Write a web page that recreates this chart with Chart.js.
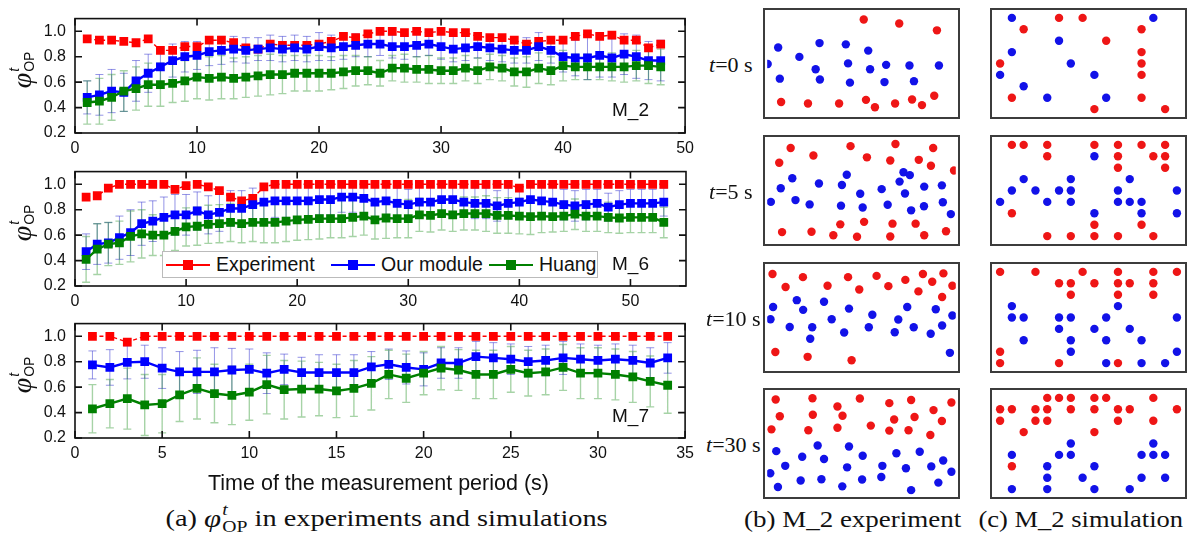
<!DOCTYPE html>
<html>
<head>
<meta charset="utf-8">
<script src="https://cdn.jsdelivr.net/npm/chart.js@4.4.1/dist/chart.umd.min.js"></script>
<style>
  html, body { margin: 0; padding: 0; background: #fff; }
  #fig { position: relative; width: 1192px; height: 536px; overflow: hidden;
         font-family: 'Liberation Sans', Arial, sans-serif; color: #111; }
  #fig canvas { position: absolute; }
  .txt { position: absolute; white-space: nowrap; line-height: 1; }
  .ytitle { position: absolute; left: 22px; white-space: nowrap; line-height: 1;
            transform: translate(-50%, -50%) rotate(-90deg); display: flex; align-items: center; }
  .phi { font-family: 'Liberation Serif', 'Times New Roman', serif; font-style: italic; font-size: 28px; }
  .ss { display: inline-flex; flex-direction: column; font-size: 14px; line-height: 1.05; margin-left: 1px; }
  .ss .sup { font-style: italic; }
  .mlab { font-size: 19px; }
  .serif { font-family: 'Liberation Serif', 'Times New Roman', serif; }
  .rowlab { font-size: 22px; text-align: right; }
  .cap { font-size: 23px; transform-origin: center center; display: flex; align-items: center; }
  .cap .ss { font-size: 16px; }
  #legend { position: absolute; left: 162px; top: 251px; width: 436px; height: 27px;
            border: 1px solid #bbb; background: #fff; box-sizing: border-box; }
  .key { position: absolute; top: 12px; width: 44px; height: 2px; }
  .key::after { content: ''; position: absolute; left: 17px; top: -4px; width: 10px; height: 10px; background: inherit; }
  .ltext { position: absolute; top: 3px; font-size: 19.5px; line-height: 1; }
</style>
</head>
<body>
<div id="fig"></div>
<script>
const seriesNames = ['Experiment', 'Our module', 'Huang'];
const seriesColors = ['#ff0000', '#0000ff', '#008000'];
const modelLabels = ['M_2', 'M_6', 'M_7'];

const m2Exp = [0.94,0.93,0.93,0.92,0.91,0.94,0.85,0.85,0.88,0.88,0.93,0.93,0.91,0.87,0.86,0.90,0.89,
  0.89,0.89,0.90,0.92,0.96,0.95,0.98,1.00,1.00,0.99,1.00,0.99,1.00,0.99,0.99,0.96,0.95,0.95,0.93,0.90,
  0.92,0.93,0.93,0.96,0.98,0.96,0.97,0.93,0.93,0.87,0.90];
const m2Our = [0.48,0.50,0.53,0.52,0.61,0.67,0.72,0.77,0.80,0.81,0.84,0.85,0.86,0.85,0.86,0.87,0.86,
  0.87,0.86,0.88,0.87,0.88,0.89,0.90,0.90,0.88,0.88,0.89,0.90,0.88,0.86,0.87,0.88,0.87,0.86,0.85,0.85,
  0.88,0.85,0.80,0.79,0.79,0.81,0.79,0.82,0.80,0.77,0.77];
const m2Huang = [0.44,0.45,0.48,0.53,0.55,0.58,0.58,0.59,0.61,0.64,0.63,0.64,0.63,0.64,0.65,0.66,0.66,
  0.67,0.67,0.67,0.67,0.68,0.69,0.69,0.67,0.71,0.71,0.70,0.70,0.69,0.69,0.71,0.69,0.72,0.71,0.68,0.68,
  0.71,0.69,0.73,0.72,0.72,0.72,0.72,0.72,0.73,0.73,0.72];
const m2OurErr = [0.13,0.16,0.17,0.15,0.16,0.15,0.14,0.13,0.12,0.11,0.11,0.11,0.10,0.10,0.09,0.10,0.10,
  0.10,0.10,0.11,0.10,0.10,0.09,0.10,0.09,0.09,0.10,0.09,0.09,0.10,0.10,0.10,0.09,0.10,0.10,0.10,0.10,
  0.11,0.10,0.12,0.14,0.17,0.17,0.15,0.16,0.17,0.15,0.16];
const m2HuangErr = [0.17,0.18,0.18,0.16,0.17,0.17,0.17,0.15,0.16,0.17,0.17,0.17,0.16,0.16,0.16,0.16,0.15,
  0.14,0.14,0.14,0.13,0.13,0.12,0.11,0.10,0.10,0.11,0.10,0.11,0.10,0.10,0.10,0.10,0.10,0.10,0.11,0.12,
  0.12,0.11,0.12,0.10,0.10,0.10,0.11,0.12,0.12,0.14,0.14];

const m6Exp = [0.90,0.91,0.97,1.00,1.00,1.00,1.00,1.00,0.96,0.99,1.00,0.98,0.95,0.90,0.87,0.89,0.98,1.00,1.00,1.00,
  1,1,1,1,1,1,1,1,1,1, 1,1,1,1,1,1,1,1,1,0.97, 1,1,1,1,1,1,1,1,1,1, 1,1,1];
const m6Our = [0.47,0.53,0.54,0.58,0.62,0.69,0.71,0.74,0.76,0.76,0.79,0.76,0.78,0.81,0.81,0.84,0.86,0.87,0.87,0.87,
  0.87,0.88,0.88,0.90,0.90,0.89,0.86,0.87,0.85,0.84, 0.86,0.86,0.88,0.88,0.86,0.85,0.85,0.83,0.85,0.86,
  0.88,0.87,0.86,0.84,0.83,0.84,0.85,0.82,0.84,0.85, 0.85,0.85,0.86];
const m6Huang = [0.41,0.49,0.53,0.54,0.59,0.61,0.60,0.60,0.63,0.665,0.67,0.685,0.69,0.70,0.69,0.70,0.70,0.70,0.71,0.72,
  0.725,0.73,0.73,0.73,0.74,0.75,0.72,0.735,0.73,0.73, 0.76,0.755,0.77,0.76,0.77,0.77,0.77,0.755,0.755,0.75,
  0.745,0.75,0.745,0.75,0.765,0.75,0.75,0.74,0.735,0.74, 0.74,0.74,0.70];
const m6OurErr = [0.14,0.16,0.16,0.17,0.18,0.17,0.16,0.16,0.16,0.16,0.15,0.15,0.15,0.14,0.14,0.13,0.13,0.13,0.13,0.13,
  0.13,0.12,0.12,0.12,0.12,0.12,0.13,0.12,0.12,0.12, 0.12,0.12,0.12,0.12,0.12,0.12,0.12,0.12,0.12,0.12,
  0.12,0.12,0.12,0.12,0.12,0.12,0.11,0.11,0.11,0.11, 0.11,0.11,0.11];
const m6HuangErr = [0.18,0.20,0.17,0.17,0.20,0.19,0.16,0.16,0.15,0.15,0.15,0.15,0.15,0.15,0.15,0.15,0.16,0.16,0.16,0.16,
  0.16,0.16,0.15,0.15,0.15,0.15,0.15,0.16,0.15,0.15, 0.13,0.13,0.13,0.13,0.13,0.13,0.14,0.14,0.14,0.14,
  0.14,0.13,0.12,0.12,0.12,0.12,0.12,0.12,0.12,0.12, 0.12,0.12,0.12];

const m7Exp = [1,1,0.955,1,1,1,1,1,1,1,1,1,1,1,1,1,1,1,1,1,1,1,1,1,1,1,1,1,1,1,1,1,1,1];
const m7Our = [0.775,0.755,0.795,0.80,0.75,0.72,0.72,0.72,0.735,0.74,0.71,0.74,0.715,0.715,0.715,0.715,0.76,
  0.78,0.755,0.74,0.79,0.79,0.84,0.83,0.82,0.80,0.81,0.83,0.82,0.81,0.82,0.81,0.79,0.83];
const m7Huang = [0.43,0.47,0.51,0.46,0.47,0.54,0.59,0.55,0.535,0.56,0.62,0.58,0.585,0.585,0.57,0.59,0.63,
  0.70,0.67,0.71,0.75,0.735,0.70,0.70,0.74,0.71,0.72,0.755,0.71,0.71,0.70,0.68,0.645,0.615];
const m7OurErr = [0.11,0.14,0.13,0.13,0.16,0.16,0.17,0.19,0.17,0.16,0.16,0.12,0.12,0.14,0.14,0.14,0.12,
  0.12,0.13,0.13,0.12,0.12,0.12,0.12,0.12,0.12,0.12,0.13,0.12,0.12,0.12,0.12,0.12,0.12];
const m7HuangErr = [0.19,0.19,0.24,0.24,0.23,0.21,0.24,0.23,0.23,0.22,0.23,0.23,0.22,0.21,0.21,0.22,0.21,
  0.19,0.19,0.17,0.17,0.16,0.19,0.19,0.18,0.18,0.18,0.18,0.20,0.20,0.20,0.20,0.20,0.22];

// --- Data: pedestrian snapshots, [column, row] in a 16 x 9 cell frame ---
const rowTimes = [0, 5, 10, 30];
const exp0Red = [[7.69,0.14],[10.7,0.49],[13.9,1.09],[0.68,7.38],[2.96,7.51],[5.6,7.51],[7.88,7.19],[8.64,7.84],
  [10.35,7.51],[11.79,7.16],[12.63,7.65],[13.67,6.83]];
const exp0Blue = [[0.43,2.6],[3.94,2.21],[6.17,2.32],[8.07,2.87],[2.23,3.42],[-0.46,4.04],[6.36,3.99],[3.61,4.51],
  [8.23,4.51],[9.59,4.12],[11.57,4.18],[14.07,4.18],[0.57,5.33],[3.97,5.41],[6.52,5.68],[9.45,5.63],[11.95,5.55]];
const exp5Red = [[1.49,0.27],[0.52,1.56],[3.42,0.93],[6.57,0.11],[7.96,1.09],[10.38,-0.08],[9.94,1.37],[12.36,1.31],
  [13.58,0.27],[13.39,1.83],[15.35,2.24],[5.7,6.97],[7.72,6.75],[10.13,6.91],[12.09,6.91],[0.76,7.65],[3.26,7.62],
  [5.11,7.93],[7.12,8.06],[9.94,8.03],[12.82,7.93],[14.67,7.57]];
const exp5Blue = [[1.63,2.92],[6.25,2.62],[11.06,2.4],[11.6,2.65],[10.73,3.22],[0.65,3.8],[3.89,3.39],[5.84,3.52],
  [9.21,3.88],[12.82,3.66],[14.32,3.55],[7.39,4.29],[11.19,4.26],[-0.19,5.0],[1.9,4.84],[3.1,5.22],[5.76,5.33],
  [7.6,5.49],[9.72,5.25],[11.71,5.74],[12.8,5.38],[14.4,5.03],[15.08,6.07]];
const exp10Red = [[-0.05,0.19],[2.53,0.46],[1.06,1.33],[4.62,1.22],[6.36,0.46],[7.31,1.55],[8.78,0.35],[9.78,1.25],
  [11.22,0.7],[12.71,0.19],[13.5,0.87],[12.33,1.71],[14.45,0.13],[14.34,2.2],[15.21,1.22],[0.19,7.02],[2.93,7.45],[6.66,7.75]];
const exp10Blue = [[0,3.08],[2.01,2.48],[2.55,3.33],[4.32,2.62],[6.44,3.22],[8.42,3.76],[11.38,3.08],[13.8,3.27],
  [-0.22,4.15],[4.97,4.15],[10.62,4.17],[1.41,4.83],[3.32,4.86],[8.12,4.86],[11.93,4.86],[14.34,4.7],[6.03,5.32],
  [10.32,5.3],[13.37,5.43],[3.15,5.87],[15.21,3.82],[15.0,7.1]];
const exp30Red = [[0.22,0.14],[3.34,0.03],[7.36,0.05],[9.86,0.46],[11.71,0.19],[5.46,0.76],[13.61,1.07],[0.57,1.61],
  [3.37,1.48],[5.89,1.56],[10.27,1.89],[12.0,1.67],[14.32,2.02],[-0.14,2.76],[2.99,2.84],[5.46,2.62],[8.29,2.43],
  [9.86,2.87],[11.49,2.84],[13.34,3.25],[15.13,0.41]];
const exp30Blue = [[0.27,4.67],[3.78,4.18],[6.44,4.26],[2.47,5.16],[4.32,5.36],[7.6,5.08],[10.46,4.86],[12.44,4.73],
  [14.43,5.49],[1.03,5.96],[6.28,6.09],[9.27,5.96],[11.27,6.17],[13.42,6.01],[-0.24,6.61],[2.34,7.24],[4.1,7.13],
  [7.55,7.16],[9.18,6.94],[0.41,7.81],[5.87,7.76],[11.71,8.09],[14.02,7.43],[15.13,6.48]];

const sim0Red = [[5,0],[7,0],[2,1],[12,1],[9,2],[12,3],[0,4],[12,4],[12,5],[1,7],[12,7],[8,8],[14,8]];
const sim0Blue = [[1,0],[13,0],[5,2],[1,3],[6,4],[0,5],[8,5],[2,6],[4,7],[9,7]];
const sim5Red = [[1,0],[2,0],[4,0],[8,0],[10,0],[12,0],[14,0],[4,1],[10,1],[13,1],[14,1],[10,2],[14,2],[1,6],
  [8,7],[12,7],[4,8],[6,8],[8,8],[10,8],[13,8]];
const sim5Blue = [[8,1],[2,3],[6,3],[11,3],[1,4],[3,4],[5,4],[6,4],[10,4],[15,4],[0,5],[4,5],[6,5],[10,5],[11,5],
  [12,5],[8,6],[12,6],[15,6]];
const sim10Red = [[0,0],[3,0],[7,0],[10,0],[13,0],[15,0],[5,1],[6,1],[8,1],[10,1],[11,1],[13,1],[6,2],[10,2],
  [13,2],[0,7],[0,8],[5,8],[10,8]];
const sim10Blue = [[1,3],[10,3],[1,4],[2,4],[5,4],[6,4],[9,4],[15,4],[5,5],[8,5],[11,5],[2,6],[6,6],[9,6],[12,6],
  [6,7],[15,7],[9,8],[12,8],[14,8]];
const sim30Red = [[4,0],[5,0],[6,0],[8,0],[9,0],[13,0],[0,1],[1,1],[3,1],[4,1],[6,1],[8,1],[10,1],[11,1],[15,1],
  [0,2],[3,2],[4,2],[10,2],[13,2],[2,3],[8,3],[1,6]];
const sim30Blue = [[6,4],[13,4],[1,5],[5,5],[6,5],[12,5],[13,5],[14,5],[4,6],[8,6],[4,7],[7,7],[12,7],[14,7],
  [1,8],[4,8],[8,8],[11,8]];

const DOT_RED = 'rgb(238,22,22)';
const DOT_BLUE = 'rgb(18,18,232)';

Chart.defaults.font.family = "'Liberation Sans', Arial, sans-serif";
Chart.defaults.font.size = 16;
Chart.defaults.color = '#111';

const fig = document.getElementById('fig');

function addCanvas(left, top, w, h) {
    const c = document.createElement('canvas');
    c.width = w; c.height = h;
    c.style.left = left + 'px'; c.style.top = top + 'px';
    c.style.width = w + 'px'; c.style.height = h + 'px';
    fig.appendChild(c);
    return c;
}

function addText(html, cls, left, top) {
    const d = document.createElement('div');
    d.className = cls;
    d.innerHTML = html;
    d.style.left = left + 'px';
    d.style.top = top + 'px';
    fig.appendChild(d);
    return d;
}

const toXY = vals => vals.map((v, i) => ({ x: i + 1, y: v }));

// --- Plugins: inward ticks on all four sides, and error bars ---
const frameTicks = {
    id: 'frameTicks',
    afterDraw(chart) {
        const { ctx, chartArea: a, scales: { x, y } } = chart;
        ctx.save();
        ctx.strokeStyle = '#111';
        ctx.lineWidth = 1.6;
        ctx.strokeRect(a.left, a.top, a.right - a.left, a.bottom - a.top);
        ctx.beginPath();
        x.ticks.forEach(t => {
            const px = x.getPixelForValue(t.value);
            ctx.moveTo(px, a.bottom); ctx.lineTo(px, a.bottom - 7);
            ctx.moveTo(px, a.top); ctx.lineTo(px, a.top + 7);
        });
        y.ticks.forEach(t => {
            const py = y.getPixelForValue(t.value);
            ctx.moveTo(a.left, py); ctx.lineTo(a.left + 7, py);
            ctx.moveTo(a.right, py); ctx.lineTo(a.right - 7, py);
        });
        ctx.stroke();
        ctx.restore();
    }
};

const errorBars = {
    id: 'errorBars',
    beforeDatasetsDraw(chart) {
        const { ctx, chartArea: a, scales: { y } } = chart;
        ctx.save();
        ctx.beginPath();
        ctx.rect(a.left, a.top, a.right - a.left, a.bottom - a.top);
        ctx.clip();
        chart.data.datasets.forEach((ds, i) => {
            if (!ds.errors) return;
            const meta = chart.getDatasetMeta(i);
            ctx.strokeStyle = ds.errorColor;
            ctx.lineWidth = ds.errorWidth;
            ctx.beginPath();
            meta.data.forEach((pt, j) => {
                const v = ds.data[j].y, e = ds.errors[j];
                const y1 = y.getPixelForValue(v + e), y2 = y.getPixelForValue(v - e);
                ctx.moveTo(pt.x, y1); ctx.lineTo(pt.x, y2);
                ctx.moveTo(pt.x - 4, y1); ctx.lineTo(pt.x + 4, y1);
                ctx.moveTo(pt.x - 4, y2); ctx.lineTo(pt.x + 4, y2);
            });
            ctx.stroke();
        });
        ctx.restore();
    }
};

// --- (a) three stacked line charts ---
const CH_H = 165, PLOT_TOP = 8, PLOT_H = 125;

function makeLineChart(top, exp, our, huang, ourErr, huangErr, xMax, xStep) {
    const canvas = addCanvas(0, top, 700, CH_H);
    return new Chart(canvas.getContext('2d'), {
        type: 'line',
        data: {
            datasets: [
                {
                    label: seriesNames[0], data: toXY(exp), borderColor: seriesColors[0], backgroundColor: seriesColors[0],
                    borderWidth: 1.4, borderDash: [4, 3], pointStyle: 'rect', pointRadius: 6.2, pointBorderWidth: 0, order: 2
                },
                {
                    label: seriesNames[1], data: toXY(our), borderColor: seriesColors[1], backgroundColor: seriesColors[1],
                    borderWidth: 2.4, pointStyle: 'rect', pointRadius: 6.2, pointBorderWidth: 0, order: 1,
                    errors: ourErr, errorColor: 'rgba(60,60,210,0.55)', errorWidth: 1
                },
                {
                    label: seriesNames[2], data: toXY(huang), borderColor: seriesColors[2], backgroundColor: seriesColors[2],
                    borderWidth: 2.4, pointStyle: 'rect', pointRadius: 6.2, pointBorderWidth: 0, order: 0,
                    errors: huangErr, errorColor: 'rgba(0,128,0,0.35)', errorWidth: 1.4
                }
            ]
        },
        options: {
            responsive: false,
            animation: false,
            layout: { padding: { top: PLOT_TOP, right: 14, left: 0, bottom: 0 } },
            plugins: { legend: { display: false }, tooltip: { enabled: false } },
            scales: {
                x: {
                    type: 'linear', min: 0, max: xMax,
                    ticks: { stepSize: xStep, includeBounds: false, padding: 6, maxRotation: 0, autoSkip: false },
                    grid: { display: false, drawTicks: false },
                    border: { display: false },
                    afterFit: s => { s.height = CH_H - PLOT_TOP - PLOT_H; }
                },
                y: {
                    min: 0.2, max: 1.1,
                    ticks: { stepSize: 0.2, includeBounds: false, padding: 9, callback: v => v.toFixed(1) },
                    grid: { display: false, drawTicks: false },
                    border: { display: false },
                    afterFit: s => { s.width = 75; }
                }
            }
        },
        plugins: [errorBars, frameTicks]
    });
}

makeLineChart(0, m2Exp, m2Our, m2Huang, m2OurErr, m2HuangErr, 50, 10);
makeLineChart(153, m6Exp, m6Our, m6Huang, m6OurErr, m6HuangErr, 55, 10);
makeLineChart(305, m7Exp, m7Our, m7Huang, m7OurErr, m7HuangErr, 35, 5);

// axis titles and labels for (a)
const phiLabel = '<span class="phi">φ</span><span class="ss"><span class="sup">t</span><span>OP</span></span>';
[70, 223, 375].forEach(cy => addText(phiLabel, 'ytitle', 22, cy));
[[612, 100], [612, 254], [612, 406]].forEach(([x, y], i) => addText(modelLabels[i], 'txt mlab', x, y));
addText('Time of the measurement period (s)', 'txt', 208, 473).style.fontSize = '21.5px';

// legend inside the M_6 panel
const legend = document.createElement('div');
legend.id = 'legend';
[[3, 53], [168, 218], [326, 376]].forEach(([kx, tx], i) => {
    const key = document.createElement('div');
    key.className = 'key';
    key.style.left = kx + 'px';
    key.style.background = seriesColors[i];
    legend.appendChild(key);
    const t = document.createElement('div');
    t.className = 'ltext';
    t.style.left = tx + 'px';
    t.textContent = seriesNames[i];
    legend.appendChild(t);
});
fig.appendChild(legend);

// --- (b), (c) snapshot panels ---
const panelBorder = {
    id: 'panelBorder',
    afterDraw(chart) {
        const { ctx, width, height } = chart;
        ctx.save();
        ctx.strokeStyle = '#3c3c3c';
        ctx.lineWidth = 2;
        ctx.strokeRect(1, 1, width - 2, height - 2);
        ctx.restore();
    }
};

function makePanel(left, top, red, blue) {
    const canvas = addCanvas(left, top, 197, 111);
    const dots = (pts, color) => ({
        data: pts.map(([x, y]) => ({ x, y })), backgroundColor: color,
        pointRadius: 4.2, pointBorderWidth: 0
    });
    new Chart(canvas.getContext('2d'), {
        type: 'scatter',
        data: { datasets: [dots(red, DOT_RED), dots(blue, DOT_BLUE)] },
        options: {
            responsive: false,
            animation: false,
            layout: { padding: 0 },
            plugins: { legend: { display: false }, tooltip: { enabled: false } },
            scales: {
                x: { display: false, min: -0.5, max: 15.5 },
                y: { display: false, min: -0.5, max: 8.5, reverse: true }
            }
        },
        plugins: [panelBorder]
    });
}

const panelTops = [8, 135, 262, 388];
const rowLabelRight = [753, 753, 761, 761];
const expPanels = [[exp0Red, exp0Blue], [exp5Red, exp5Blue], [exp10Red, exp10Blue], [exp30Red, exp30Blue]];
const simPanels = [[sim0Red, sim0Blue], [sim5Red, sim5Blue], [sim10Red, sim10Blue], [sim30Red, sim30Blue]];
panelTops.forEach((top, i) => {
    makePanel(763, top, expPanels[i][0], expPanels[i][1]);
    makePanel(990, top, simPanels[i][0], simPanels[i][1]);
    const lab = addText('<i>t</i>=' + rowTimes[i] + ' s', 'txt serif rowlab', 0, top + 55);
    lab.style.left = (rowLabelRight[i] - lab.offsetWidth) + 'px';
    lab.style.top = (top + 57 - lab.offsetHeight / 2) + 'px';
});

// --- captions ---
function caption(html, centerX, targetWidth) {
    const d = addText(html, 'txt serif cap', 0, 0);
    const w = d.offsetWidth, h = d.offsetHeight;
    d.style.left = (centerX - w / 2) + 'px';
    d.style.top = (519 - h / 2) + 'px';
    d.style.transform = 'scaleX(' + (targetWidth / w).toFixed(3) + ')';
}
caption('(a)&nbsp;<span class="phi" style="font-size:25px">φ</span><span class="ss"><span class="sup">t</span><span>OP</span></span>&nbsp;in experiments and simulations', 386, 442);
caption('(b) M_2 experiment', 852, 217);
caption('(c) M_2 simulation', 1081, 205);
</script>
</body>
</html>
